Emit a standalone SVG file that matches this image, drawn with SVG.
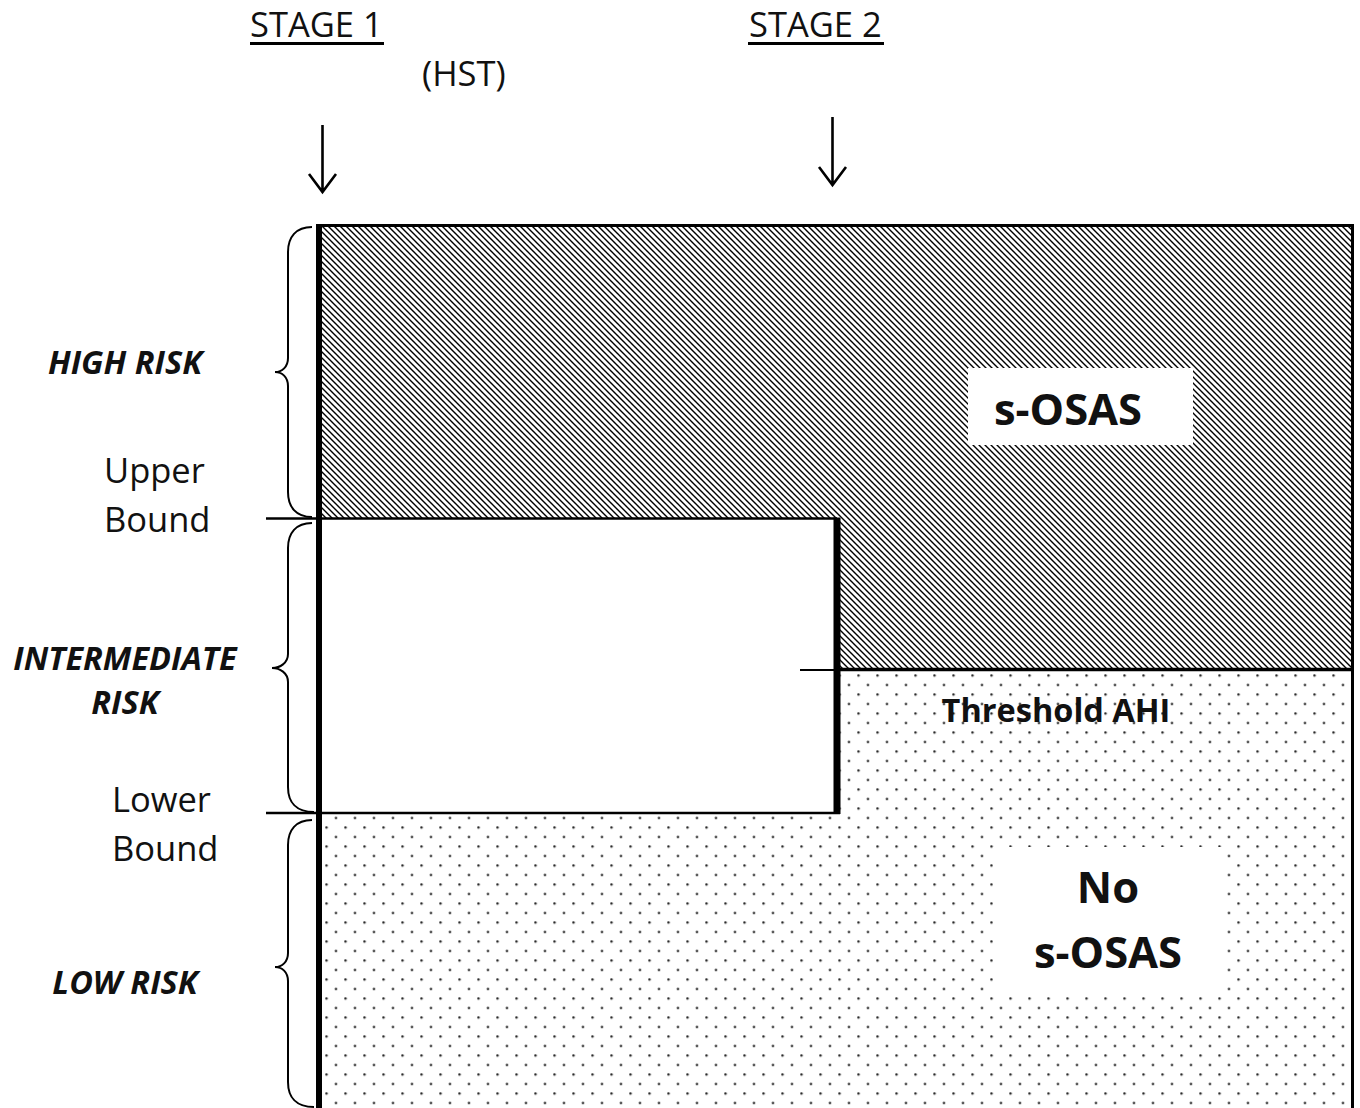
<svg xmlns="http://www.w3.org/2000/svg" width="1360" height="1108" viewBox="0 0 1360 1108">
<style>
.reg{font-family:"Open Sans","Liberation Sans",sans-serif;font-size:34.5px;fill:#111}
.bi{font-family:"Open Sans","Liberation Sans",sans-serif;font-size:32.5px;font-weight:bold;font-style:italic;fill:#111;text-anchor:middle}
.bl{font-family:"Open Sans","Liberation Sans",sans-serif;font-weight:bold;fill:#111;text-anchor:middle}
.ln{stroke:#000;fill:none}
.brace{stroke:#000;fill:none;stroke-width:2}
</style>
<defs>
<pattern id="hatch" width="6" height="6" patternUnits="userSpaceOnUse">
<rect width="6" height="6" fill="#fff"/>
<path d="M-1,-1 L7,7 M-1,5 L1,7 M5,-1 L7,1" stroke="#000" stroke-width="1.4"/>
</pattern>
<pattern id="dots" x="331.25" y="1041.25" width="19" height="19" patternUnits="userSpaceOnUse">
<rect width="19" height="19" fill="#fff"/>
<circle cx="4.75" cy="4.75" r="1.2" fill="#222"/>
<circle cx="14.25" cy="14.25" r="1.2" fill="#222"/>
</pattern>
</defs>

<g id="regions">
<polygon id="high-region" points="322,227 1352,227 1352,669 840,669 840,518 322,518" fill="url(#hatch)"/>
<polygon id="low-region" points="840,670 1352,670 1352,1108 322,1108 322,813 840,813" fill="url(#dots)"/>
<rect id="intermediate-region" x="322" y="519" width="513" height="293" fill="#fff"/>
</g>

<g id="connectors">
<line class="ln" x1="319" y1="225" x2="319" y2="1108" stroke-width="6"/>
<line class="ln" x1="316" y1="225.5" x2="1354" y2="225.5" stroke-width="3"/>
<line class="ln" x1="1352.5" y1="224" x2="1352.5" y2="1108" stroke-width="3"/>
<line class="ln" x1="266" y1="518.5" x2="837" y2="518.5" stroke-width="2.5"/>
<line class="ln" x1="266" y1="813" x2="840" y2="813" stroke-width="2.5"/>
<line class="ln" x1="837" y1="517.5" x2="837" y2="814" stroke-width="7"/>
<line class="ln" x1="837" y1="669.5" x2="1354" y2="669.5" stroke-width="3.5"/>
<line class="ln" x1="800" y1="670" x2="834" y2="670" stroke-width="2"/>
<path class="ln" d="M322.5,125 L322.5,192 M309,174 L322.5,192 L336,174" stroke-width="2.6"/>
<path class="ln" d="M832.5,117 L832.5,185 M819,167 L832.5,185 L846,167" stroke-width="2.6"/>
<path class="brace" d="M312,227 C296,227 288,237 288,252 L288,358 C288,367 282,372 275,372 C282,372 288,377 288,386 L288,492 C288,507 296,517 312,517"/>
<path class="brace" d="M312,523 C296,523 288,533 288,548 L288,654 C288,663 280,668 272,668 C280,668 288,673 288,682 L288,787 C288,802 296,812 314,812"/>
<path class="brace" d="M312,820 C296,820 288,830 288,845 L288,953 C288,962 282,967 275,967 C282,967 288,972 288,981 L288,1082 C288,1097 296,1107 314,1107"/>
</g>

<g id="stage1">
<text class="reg" x="250" y="37">STAGE 1</text>
<line class="ln" x1="250" y1="43.5" x2="384" y2="43.5" stroke-width="3"/>
<text class="reg" x="422" y="86">(HST)</text>
</g>
<g id="stage2">
<text class="reg" x="749" y="37">STAGE 2</text>
<line class="ln" x1="748" y1="43.5" x2="884" y2="43.5" stroke-width="3"/>
</g>

<g id="high-risk"><text class="bi" x="125" y="374">HIGH RISK</text></g>
<g id="upper-bound">
<text class="reg" x="104" y="483">Upper</text>
<text class="reg" x="104" y="532">Bound</text>
</g>
<g id="intermediate-risk">
<text class="bi" x="125" y="670">INTERMEDIATE</text>
<text class="bi" x="125" y="714">RISK</text>
</g>
<g id="lower-bound">
<text class="reg" x="112" y="812">Lower</text>
<text class="reg" x="112" y="861">Bound</text>
</g>
<g id="low-risk"><text class="bi" x="125" y="994">LOW RISK</text></g>

<g id="s-osas">
<rect x="968" y="368" width="225" height="77" fill="#fff"/>
<text class="bl" x="1068" y="425" font-size="43.5">s-OSAS</text>
</g>
<g id="threshold-ahi">
<text class="bl" x="1056" y="722" font-size="32.5">Threshold AHI</text>
</g>
<g id="no-s-osas">
<rect x="993" y="847" width="229" height="146" fill="#fff"/>
<text class="bl" x="1108" y="903" font-size="43.5">No</text>
<text class="bl" x="1108" y="968" font-size="43.5">s-OSAS</text>
</g>
</svg>
